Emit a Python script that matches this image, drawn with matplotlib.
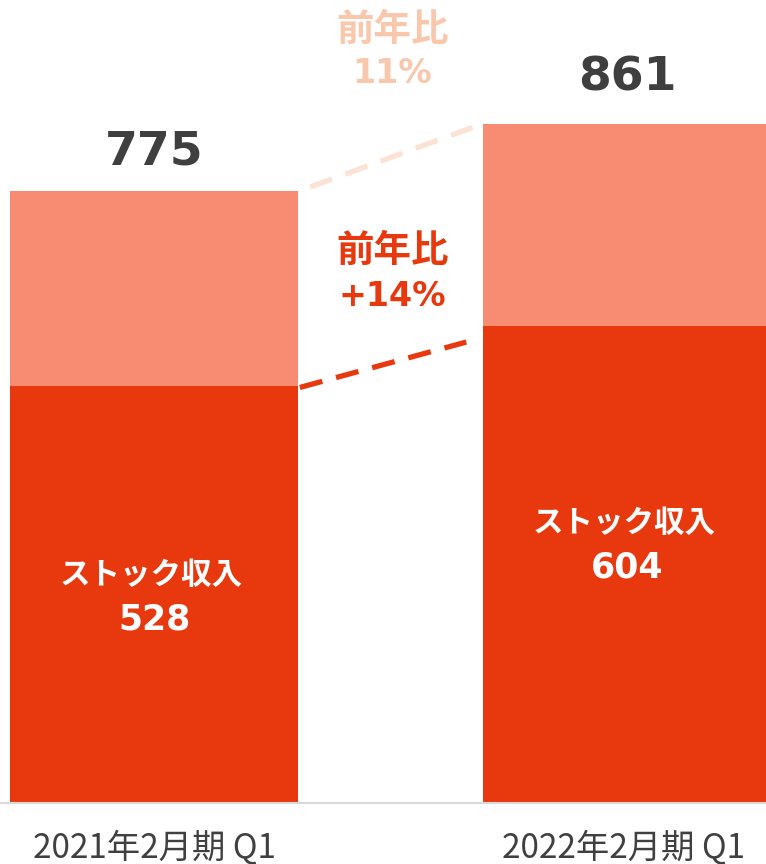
import numpy as np
import matplotlib
matplotlib.use("Agg")
import matplotlib.pyplot as plt

plt.rcParams['font.family'] = ['Noto Sans CJK JP', 'DejaVu Sans']
NUM_FONT = ['DejaVu Sans', 'Noto Sans CJK JP']

# data
periods   = ["2021年2月期 Q1", "2022年2月期 Q1"]
totals    = [775, 861]
stock     = [528, 604]
yoy_label = "前年比"
yoy_total = "11%"
yoy_stock = "+14%"
seg_label = "ストック収入"

c_stock = "#E8380D"
c_other = "#F78C73"
c_light = "#FCE2D4"
c_light_txt = "#F9C8AC"
c_num = "#3F3F3F"

fig = plt.figure(figsize=(7.66, 8.64), dpi=100)
ax = fig.add_axes([0, 61/864, 1, 803/864])

x = np.arange(len(totals))
w = 0.609
other = np.array(totals) - np.array(stock)
ax.bar(x, stock, w, color=c_stock, zorder=2)
ax.bar(x, other, w, bottom=stock, color=c_other, zorder=2)

ax.set_xlim(-0.3256, 1.2939)
ax.set_ylim(0, 1017.7)
ax.axis('off')
ax.axhline(0, color="#D9D9D9", lw=1.5, zorder=3, clip_on=False)

def py(px):
    # pixel row from top -> data y
    return (803 - px) / 0.789

# totals above bars
for xi, t, yy in zip(x, totals, [152, 78]):
    ax.text(xi, py(yy), f"{t}", ha='center', va='center', fontsize=34,
            fontweight='bold', color=c_num, family=NUM_FONT)

# labels inside stock segment
for xi, s, y1, y2 in zip(x, stock, [575, 523], [620, 568]):
    ax.text(xi - 0.005, py(y1), seg_label, ha='center', va='center', fontsize=22,
            fontweight='bold', color='white')
    ax.text(xi, py(y2), f"{s}", ha='center', va='center', fontsize=25,
            fontweight='bold', color='white', family=NUM_FONT)

# connector dashed lines (corner to corner, shortened)
def connect(y0, y1, t0, t1, color):
    xa, xb = x[0] + w/2, x[1] - w/2
    ts = np.array([t0, t1])
    ax.plot(xa + (xb - xa)*ts, y0 + (y1 - y0)*ts, color=color, lw=3.8,
            ls=(0, (4.4, 2.7)), solid_capstyle='butt', dash_capstyle='butt', zorder=1)

connect(totals[0], totals[1], 0.066, 0.944, c_light)
connect(stock[0] - 2, stock[1] - 14, 0.01, 0.91, c_stock)

xm = 0.504
ax.text(xm, py(29), yoy_label, ha='center', va='center', fontsize=27,
        fontweight='bold', color=c_light_txt)
ax.text(xm, py(74), yoy_total, ha='center', va='center', fontsize=24,
        fontweight='bold', color=c_light_txt, family=NUM_FONT)
ax.text(xm, py(250), yoy_label, ha='center', va='center', fontsize=27,
        fontweight='bold', color=c_stock)
ax.text(xm, py(297), yoy_stock, ha='center', va='center', fontsize=24,
        fontweight='bold', color=c_stock, family=NUM_FONT)

# category labels
for xc, p in zip([154, 624], periods):
    fig.text(xc/766, 1 - 848/864, p, ha='center', va='center',
             fontsize=24, color="#404040")

fig.savefig("out.png", dpi=100)
